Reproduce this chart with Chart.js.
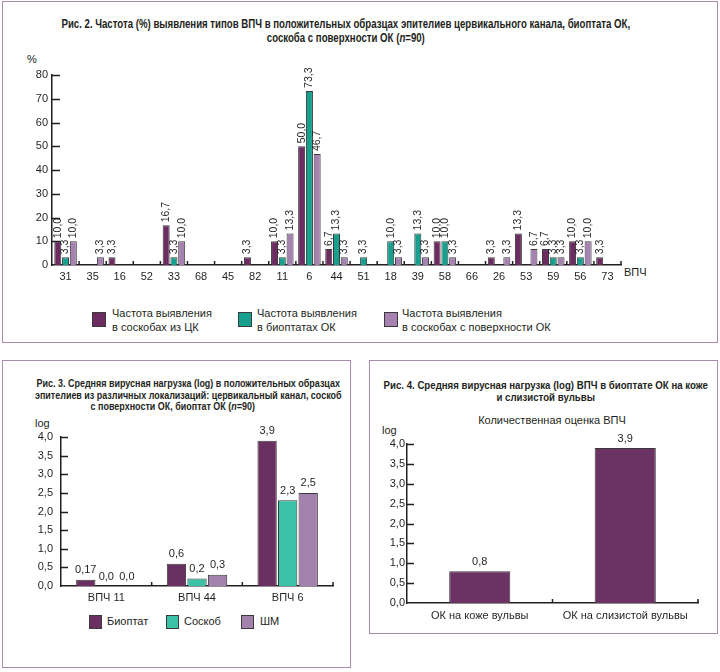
<!DOCTYPE html>
<html>
<head>
<meta charset="utf-8">
<script src="https://cdn.jsdelivr.net/npm/chart.js@4.4.1/dist/chart.umd.min.js"></script>
<style>
  body { margin: 0; width: 720px; height: 672px; position: relative; background: #fff;
         font-family: "Liberation Sans", Arial, sans-serif; color: #231f20; overflow: hidden; }
  .panel { position: absolute; border: 1.5px solid #a98aad; box-sizing: border-box; }
  .txt { position: absolute; white-space: nowrap; font-size: 11px; }
  .title { position: absolute; white-space: nowrap; text-align: center; font-weight: bold;
           transform-origin: 50% 0; }
  .sq { position: absolute; border: 1px solid #3a3a3a; box-sizing: border-box; }
  canvas { position: absolute; }
</style>
</head>
<body>
<div class="panel" style="left:2px;top:1px;width:716px;height:342px"></div>
<div class="panel" style="left:2px;top:360px;width:349px;height:308px"></div>
<div class="panel" style="left:369px;top:360px;width:349px;height:274px"></div>

<!-- Рис. 2 -->
<div class="title" data-cx="346" data-w="569" style="top:17px;font-size:12.5px;line-height:14px">
  Рис. 2. Частота (%) выявления типов ВПЧ в положительных образцах эпителиев цервикального канала, биоптата ОК,<br>
  соскоба с поверхности ОК (<i>n</i>=90)
</div>
<div class="txt" style="left:27px;top:53px">%</div>
<div class="txt" style="left:624px;top:266px">ВПЧ</div>
<canvas id="freqChart" width="720" height="230" style="left:0;top:60px;width:720px;height:230px"></canvas>

<div class="sq" style="left:92px;top:312px;width:14px;height:15px;background:#6c2c62"></div>
<div class="txt" style="left:112px;top:306px;line-height:14px">Частота выявления<br>в соскобах из ЦК</div>
<div class="sq" style="left:238px;top:312px;width:14px;height:15px;background:#17a08e"></div>
<div class="txt" style="left:257px;top:306px;line-height:14px">Частота выявления<br>в биоптатах ОК</div>
<div class="sq" style="left:384px;top:312px;width:14px;height:15px;background:#a682b0"></div>
<div class="txt" style="left:402px;top:306px;line-height:14px">Частота выявления<br>в соскобах с поверхности ОК</div>

<!-- Рис. 3 -->
<div class="title" data-cx="188" data-w="307" style="top:378px;font-size:11px;line-height:11.5px">
  Рис. 3. Средняя вирусная нагрузка (log) в положительных образцах<br>
  эпителиев из различных локализаций: цервикальный канал, соскоб<br>
  <span style="position:relative;left:-19px">с поверхности ОК, биоптат ОК (<i>n</i>=90)</span>
</div>
<div class="txt" style="left:35px;top:417px">log</div>
<canvas id="loadChart" width="351" height="200" style="left:0;top:410px;width:351px;height:200px"></canvas>

<div class="sq" style="left:89px;top:615px;width:13px;height:14px;background:#6b3062"></div>
<div class="txt" style="left:107px;top:615px">Биоптат</div>
<div class="sq" style="left:166px;top:615px;width:13px;height:14px;background:#3bc2a6"></div>
<div class="txt" style="left:184px;top:615px">Соскоб</div>
<div class="sq" style="left:241px;top:615px;width:13px;height:14px;background:#a383ae"></div>
<div class="txt" style="left:260px;top:615px">ШМ</div>

<!-- Рис. 4 -->
<div class="title" data-cx="545" data-w="324" style="top:379px;font-size:11px;line-height:12px">
  Рис. 4. Средняя вирусная нагрузка (log) ВПЧ в биоптате ОК на коже<br>
  и слизистой вульвы
</div>
<div class="txt" style="left:452px;top:414px;width:200px;text-align:center">Количественная оценка ВПЧ</div>
<div class="txt" style="left:382px;top:424px">log</div>
<canvas id="vulvaChart" width="349" height="200" style="left:369px;top:425px;width:349px;height:200px"></canvas>

<script>
// Рис. 2 data
const hpvTypes = ['31', '35', '16', '52', '33', '68', '45', '82', '11', '6', '44', '51', '18', '39', '58', '66', '26', '53', '59', '56', '73'];
const cervicalSwab = [10.0, null, 3.3, null, 16.7, null, null, 3.3, 10.0, 50.0, 6.7, null, null, null, 10.0, null, 3.3, 13.3, 6.7, 10.0, 3.3];
const biopsyOK = [3.3, null, null, null, 3.3, null, null, null, 3.3, 73.3, 13.3, 3.3, 10.0, 13.3, 10.0, null, null, null, 3.3, 3.3, null];
const surfaceSwab = [10.0, 3.3, null, null, 10.0, null, null, null, 13.3, 46.7, 3.3, null, 3.3, 3.3, 3.3, null, 3.3, 6.7, 3.3, 10.0, null];
const freqTicks = [0, 80, 10]; // min, max, step

// Рис. 3 data
const loadGroups = ['ВПЧ 11', 'ВПЧ 44', 'ВПЧ 6'];
const loadBiopsy = [0.17, 0.6, 3.9];
const loadSwab = [0.0, 0.2, 2.3];
const loadSM = [0.0, 0.3, 2.5];

// Рис. 4 data
const vulvaSites = ['ОК на коже вульвы', 'ОК на слизистой вульвы'];
const vulvaLoad = [0.8, 3.9];
const logTicks = [0, 4, 0.5];

const INK = '#231f20';
const FONT = '"Liberation Sans", Arial, sans-serif';

// squeeze bold titles to the condensed width of the original
document.querySelectorAll('.title').forEach(el => {
    const w = el.offsetWidth;
    const k = Number(el.dataset.w) / w;
    el.style.left = (Number(el.dataset.cx) - w / 2) + 'px';
    el.style.transform = 'scaleX(' + k + ')';
});

function fmt(v) {
    const s = Number.isInteger(v) ? v.toFixed(1) : String(v);
    return s.replace('.', ',');
}

// value labels above bars
const valueLabels = {
    id: 'valueLabels',
    afterDatasetsDraw(chart, args, opts) {
        const ctx = chart.ctx;
        ctx.save();
        ctx.font = opts.size + 'px ' + FONT;
        ctx.fillStyle = INK;
        chart.data.datasets.forEach((ds, di) => {
            const meta = chart.getDatasetMeta(di);
            meta.data.forEach((bar, i) => {
                const v = ds.data[i];
                if (v === null || v === undefined) return;
                const text = fmt(v);
                if (opts.rotate) {
                    ctx.save();
                    ctx.translate(bar.x, bar.y - opts.gap);
                    ctx.rotate(-Math.PI / 2);
                    ctx.textAlign = 'left';
                    ctx.textBaseline = 'middle';
                    ctx.fillText(text, 0, 0);
                    ctx.restore();
                } else {
                    ctx.textAlign = 'center';
                    ctx.textBaseline = 'bottom';
                    ctx.fillText(text, bar.x, bar.y - opts.gap);
                }
            });
        });
        ctx.restore();
    }
};

// tick marks pointing into the plot
const innerTicks = {
    id: 'innerTicks',
    afterDraw(chart, args, opts) {
        const { ctx, chartArea, scales: { x, y } } = chart;
        ctx.save();
        ctx.strokeStyle = INK;
        ctx.lineWidth = 1.5;
        ctx.beginPath();
        y.ticks.forEach((t, i) => {
            if (i === 0) return;
            const py = Math.round(y.getPixelForTick(i)) + 0.5;
            ctx.moveTo(chartArea.left, py);
            ctx.lineTo(chartArea.left + opts.yLen, py);
        });
        for (let i = 1; i <= x.ticks.length; i++) {
            const px = x.getPixelForValue(i - 0.5);
            ctx.moveTo(px, chartArea.bottom);
            ctx.lineTo(px, chartArea.bottom - opts.xLen);
        }
        ctx.stroke();
        ctx.restore();
    }
};

function axes(xHeight, xPad, yWidth, yPad, yRange, size) {
    return {
        x: {
            grid: { display: false, drawTicks: false },
            border: { display: true, color: INK, width: 1.5 },
            ticks: { color: INK, font: { family: FONT, size: size }, padding: xPad, maxRotation: 0, autoSkip: false },
            afterFit(s) { s.height = xHeight; }
        },
        y: {
            min: yRange[0], max: yRange[1],
            grid: { display: false, drawTicks: false },
            border: { display: true, color: INK, width: 1.5 },
            ticks: {
                stepSize: yRange[2], color: INK, padding: yPad,
                font: { family: FONT, size: size },
                callback: v => yRange[2] < 1 ? v.toFixed(1).replace('.', ',') : v
            },
            afterFit(s) { s.width = yWidth; }
        }
    };
}

const barBorder = ctx => (ctx.raw ? 1 : 0);

new Chart(document.getElementById('freqChart'), {
    type: 'bar',
    data: {
        labels: hpvTypes,
        datasets: [
            { label: 'Частота выявления в соскобах из ЦК', data: cervicalSwab, backgroundColor: '#6c2c62' },
            { label: 'Частота выявления в биоптатах ОК', data: biopsyOK, backgroundColor: '#17a08e' },
            { label: 'Частота выявления в соскобах с поверхности ОК', data: surfaceSwab, backgroundColor: '#a682b0' }
        ].map(d => Object.assign(d, { borderColor: '#3a3a3a', borderWidth: barBorder,
            categoryPercentage: 0.86, barPercentage: 0.9 }))
    },
    options: {
        responsive: false,
        animation: false,
        layout: { padding: { top: 15, right: 99, bottom: 0, left: 0 } },
        plugins: {
            legend: { display: false }, tooltip: { enabled: false },
            valueLabels: { size: 10.5, gap: 3, rotate: true },
            innerTicks: { yLen: 8, xLen: 4 }
        },
        scales: axes(25, 5, 52, 4, freqTicks, 11)
    },
    plugins: [valueLabels, innerTicks]
});

new Chart(document.getElementById('loadChart'), {
    type: 'bar',
    data: {
        labels: loadGroups,
        datasets: [
            { label: 'Биоптат', data: loadBiopsy, backgroundColor: '#6b3062' },
            { label: 'Соскоб', data: loadSwab, backgroundColor: '#3bc2a6' },
            { label: 'ШМ', data: loadSM, backgroundColor: '#a383ae' }
        ].map(d => Object.assign(d, { borderColor: '#3a3a3a', borderWidth: barBorder,
            categoryPercentage: 0.68, barPercentage: 0.94 }))
    },
    options: {
        responsive: false,
        animation: false,
        layout: { padding: { top: 27, right: 18, bottom: 0, left: 0 } },
        plugins: {
            legend: { display: false }, tooltip: { enabled: false },
            valueLabels: { size: 11, gap: 4, rotate: false },
            innerTicks: { yLen: 7, xLen: 4 }
        },
        scales: axes(24, 5, 61, 8, logTicks, 11)
    },
    plugins: [valueLabels, innerTicks]
});

new Chart(document.getElementById('vulvaChart'), {
    type: 'bar',
    data: {
        labels: vulvaSites,
        datasets: [
            { label: 'Количественная оценка ВПЧ', data: vulvaLoad, backgroundColor: '#6b3264',
              borderColor: '#3a3a3a', borderWidth: 1, categoryPercentage: 0.42, barPercentage: 1 }
        ]
    },
    options: {
        responsive: false,
        animation: false,
        layout: { padding: { top: 19, right: 20, bottom: 0, left: 0 } },
        plugins: {
            legend: { display: false }, tooltip: { enabled: false },
            valueLabels: { size: 11, gap: 4, rotate: false },
            innerTicks: { yLen: 7, xLen: 4 }
        },
        scales: axes(22, 6, 38, 2, logTicks, 11)
    },
    plugins: [valueLabels, innerTicks]
});
</script>
</body>
</html>
